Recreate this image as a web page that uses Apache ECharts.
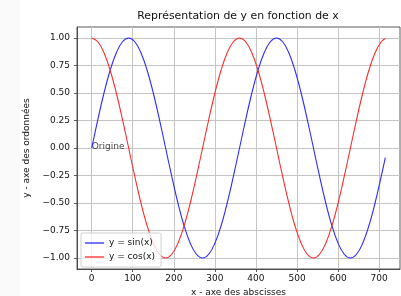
<!DOCTYPE html>
<html>
<head>
<meta charset="UTF-8">
<title>sin / cos</title>
<script src="https://cdn.jsdelivr.net/npm/echarts@6/dist/echarts.min.js"></script>
<style>
  html, body { margin: 0; padding: 0; background: #fff; }
  #main { width: 401px; height: 296px; }
</style>
</head>
<body>
<div id="main"></div>
<script>
// x en degrés
var xs = [0,15,30,45,60,75,90,105,120,135,150,165,180,195,210,225,240,255,270,285,300,315,330,345,
          360,375,390,405,420,435,450,465,480,495,510,525,540,555,570,585,600,615,630,645,660,675,690,705,715];
var sinVals = [0,0.259,0.5,0.707,0.866,0.966,1,0.966,0.866,0.707,0.5,0.259,0,-0.259,-0.5,-0.707,-0.866,-0.966,-1,-0.966,-0.866,-0.707,-0.5,-0.259,
               0,0.259,0.5,0.707,0.866,0.966,1,0.966,0.866,0.707,0.5,0.259,0,-0.259,-0.5,-0.707,-0.866,-0.966,-1,-0.966,-0.866,-0.707,-0.5,-0.259,-0.087];
var cosVals = [1,0.966,0.866,0.707,0.5,0.259,0,-0.259,-0.5,-0.707,-0.866,-0.966,-1,-0.966,-0.866,-0.707,-0.5,-0.259,0,0.259,0.5,0.707,0.866,0.966,
               1,0.966,0.866,0.707,0.5,0.259,0,-0.259,-0.5,-0.707,-0.866,-0.966,-1,-0.966,-0.866,-0.707,-0.5,-0.259,0,0.259,0.5,0.707,0.866,0.966,0.996];
var xTicks = [0,100,200,300,400,500,600,700];
var yTicks = [-1,-0.75,-0.5,-0.25,0,0.25,0.5,0.75,1];

function pairs(ys) {
    var out = [];
    for (var i = 0; i < xs.length; i++) out.push([xs[i], ys[i]]);
    return out;
}

var font = 'DejaVu Sans';
var myChart = echarts.init(document.getElementById('main'));
var option = {
    animation: false,
    backgroundColor: '#fff',
    graphic: [{
        type: 'rect', z: -10,
        shape: {x: 0, y: 0, width: 20, height: 296},
        style: {fill: '#fafafa'}
    }],
    title: {
        text: 'Représentation de y en fonction de x',
        left: 238, top: 11, padding: 0,
        textAlign: 'center',
        textStyle: {fontFamily: font, fontSize: 10.9, fontWeight: 'normal', color: '#111'}
    },
    legend: {
        data: ['y = sin(x)', 'y = cos(x)'],
        orient: 'vertical',
        left: 81, top: 233,
        padding: [5, 6, 5, 4],
        icon: 'rect',
        itemWidth: 19, itemHeight: 1.3, itemGap: 4,
        backgroundColor: 'rgba(255,255,255,0.8)',
        borderColor: '#d0d0d0', borderWidth: 1, borderRadius: 2,
        textStyle: {fontFamily: font, fontSize: 9, color: '#111', lineHeight: 10}
    },
    grid: {
        left: 77, right: 1, top: 27, bottom: 27,
        outerBoundsMode: 'none',
        show: true, borderColor: '#333', borderWidth: 0.8
    },
    xAxis: {
        type: 'value',
        min: -35.75, max: 750.75,
        name: 'x - axe des abscisses',
        nameLocation: 'middle', nameGap: 17,
        nameTextStyle: {fontFamily: font, fontSize: 9, color: '#111'},
        axisLine: {show: true, onZero: false, lineStyle: {color: '#333', width: 0.8}},
        axisTick: {show: true, length: 3, customValues: xTicks, lineStyle: {color: '#333', width: 0.8}},
        axisLabel: {customValues: xTicks, margin: 5, fontFamily: font, fontSize: 9, color: '#111'},
        splitLine: {show: true, customValues: xTicks, lineStyle: {color: '#c4c4c4', width: 1}}
    },
    yAxis: {
        type: 'value',
        min: -1.1, max: 1.1,
        name: 'y - axe des ordonnées',
        nameLocation: 'middle', nameGap: 39, nameRotate: 90,
        nameTextStyle: {fontFamily: font, fontSize: 9, color: '#111'},
        axisLine: {show: true, onZero: false, lineStyle: {color: '#333', width: 0.8}},
        axisTick: {show: true, length: 3, customValues: yTicks, lineStyle: {color: '#333', width: 0.8}},
        axisLabel: {
            customValues: yTicks, margin: 7, fontFamily: font, fontSize: 9, color: '#111',
            formatter: function (v) { return v.toFixed(2).replace('-', '\u2212'); }
        },
        splitLine: {show: true, customValues: yTicks, lineStyle: {color: '#c4c4c4', width: 1}}
    },
    series: [{
        name: 'y = sin(x)',
        type: 'line',
        symbol: 'none',
        smooth: 0.4,
        lineStyle: {color: '#2b2bff', width: 1.1},
        itemStyle: {color: '#2b2bff'},
        data: pairs(sinVals)
    }, {
        name: 'y = cos(x)',
        type: 'line',
        symbol: 'none',
        smooth: 0.4,
        lineStyle: {color: '#ff2b2b', width: 1.1},
        itemStyle: {color: '#ff2b2b'},
        data: pairs(cosVals)
    }, {
        name: 'annotation',
        type: 'scatter',
        symbolSize: 0,
        silent: true,
        label: {
            show: true, formatter: 'Origine', position: [0, 0],
            align: 'left', verticalAlign: 'bottom', offset: [0, 3],
            fontFamily: font, fontSize: 9, color: '#111'
        },
        data: [[0, 0]]
    }]
};
myChart.setOption(option);
</script>
</body>
</html>
